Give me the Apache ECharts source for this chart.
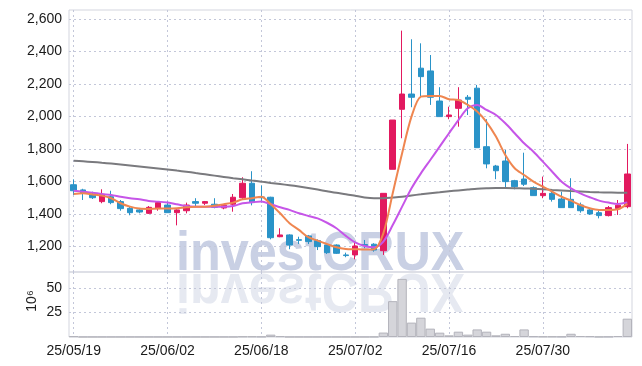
<!DOCTYPE html>
<html>
<head>
<meta charset="utf-8">
<script src="https://cdn.jsdelivr.net/npm/echarts@6/dist/echarts.min.js"></script>
<style>
html, body { margin: 0; padding: 0; background: #fff; }
#chart { width: 642px; height: 366px; }
</style>
</head>
<body>
<div id="chart"></div>
<script>
// trading days (KRX), yy/mm/dd
const dates = [
    '25/05/19', '25/05/20', '25/05/21', '25/05/22', '25/05/23', '25/05/26', '25/05/27', '25/05/28', '25/05/29', '25/05/30',
    '25/06/02', '25/06/04', '25/06/05', '25/06/09', '25/06/10', '25/06/11', '25/06/12', '25/06/13', '25/06/16', '25/06/17',
    '25/06/18', '25/06/19', '25/06/20', '25/06/23', '25/06/24', '25/06/25', '25/06/26', '25/06/27', '25/06/30', '25/07/01',
    '25/07/02', '25/07/03', '25/07/04', '25/07/07', '25/07/08', '25/07/09', '25/07/10', '25/07/11', '25/07/14', '25/07/15',
    '25/07/16', '25/07/17', '25/07/18', '25/07/21', '25/07/22', '25/07/23', '25/07/24', '25/07/25', '25/07/28', '25/07/29',
    '25/07/30', '25/07/31', '25/08/01', '25/08/04', '25/08/05', '25/08/06', '25/08/07', '25/08/08', '25/08/11', '25/08/12'
];

// [open, close, low, high]
const ohlc = [
    [1580, 1543, 1517, 1613], [1548, 1527, 1486, 1555], [1521, 1500, 1492, 1537], [1476, 1521, 1466, 1552], [1506, 1470, 1460, 1543],
    [1476, 1433, 1420, 1486], [1435, 1408, 1392, 1445], [1425, 1412, 1404, 1437], [1404, 1441, 1400, 1449], [1433, 1470, 1420, 1478],
    [1455, 1408, 1408, 1476], [1408, 1425, 1330, 1429], [1420, 1455, 1404, 1470], [1476, 1466, 1445, 1497], [1466, 1476, 1455, 1480],
    [1460, 1441, 1435, 1497], [1437, 1454, 1429, 1460], [1460, 1503, 1414, 1523], [1500, 1589, 1486, 1626], [1589, 1470, 1453, 1663],
    [1505, 1500, 1470, 1575], [1503, 1254, 1244, 1506], [1260, 1271, 1257, 1312], [1271, 1209, 1183, 1275], [1242, 1238, 1215, 1260],
    [1265, 1230, 1215, 1271], [1236, 1199, 1178, 1244], [1209, 1162, 1154, 1214], [1209, 1158, 1154, 1213], [1148, 1144, 1134, 1162],
    [1148, 1203, 1121, 1223], [1212, 1206, 1189, 1240], [1214, 1178, 1168, 1220], [1174, 1527, 1148, 1527], [1675, 1978, 1675, 1978],
    [2044, 2138, 1866, 2528], [2138, 2118, 2057, 2475], [2297, 2245, 2122, 2450], [2280, 2118, 2071, 2378], [2095, 1999, 1999, 2180],
    [1999, 2009, 1983, 2060], [2050, 2101, 1937, 2180], [2118, 2106, 2009, 2132], [2174, 1808, 1808, 2194], [1814, 1708, 1681, 1983],
    [1695, 1666, 1614, 1702], [1726, 1599, 1564, 1794], [1605, 1568, 1552, 1610], [1615, 1583, 1572, 1777], [1562, 1513, 1513, 1570],
    [1513, 1527, 1497, 1630], [1527, 1490, 1476, 1535], [1492, 1439, 1439, 1537], [1490, 1439, 1439, 1620], [1455, 1420, 1408, 1470],
    [1425, 1400, 1394, 1430], [1408, 1390, 1373, 1425], [1390, 1439, 1385, 1449], [1433, 1454, 1394, 1486], [1445, 1646, 1435, 1831]
];

const maShort = [
    1523, 1527, 1520, 1513, 1497, 1466, 1445, 1433, 1431, 1433,
    1433, 1435, 1441, 1445, 1445, 1451, 1460, 1470, 1490, 1497,
    1506, 1460, 1404, 1343, 1302, 1257, 1236, 1215, 1195, 1185,
    1183, 1181, 1183, 1281, 1527, 1774, 1999, 2122, 2126, 2126,
    2106, 2101, 2071, 2030, 1965, 1876, 1763, 1681, 1640, 1599,
    1568, 1537, 1506, 1482, 1455, 1435, 1425, 1425, 1429, 1462
];

const maMid = [
    1543, 1537, 1531, 1523, 1517, 1506, 1497, 1490, 1480, 1476,
    1470, 1460, 1449, 1445, 1445, 1445, 1445, 1449, 1466, 1472,
    1476, 1460, 1441, 1425, 1404, 1388, 1373, 1346, 1312, 1265,
    1225, 1203, 1195, 1230, 1332, 1445, 1558, 1650, 1732, 1814,
    1897, 1978, 2050, 2071, 2040, 2009, 1958, 1897, 1835, 1783,
    1722, 1660, 1599, 1558, 1527, 1503, 1482, 1470, 1462, 1470
];

const maLong = [
    1728, 1724, 1720, 1715, 1710, 1704, 1698, 1692, 1686, 1680,
    1674, 1667, 1660, 1652, 1644, 1636, 1628, 1620, 1613, 1606,
    1599, 1591, 1584, 1577, 1569, 1560, 1550, 1540, 1530, 1522,
    1512, 1502, 1497, 1497, 1501, 1506, 1514, 1521, 1528, 1534,
    1540, 1545, 1550, 1555, 1558, 1560, 1560, 1559, 1557, 1555,
    1552, 1548, 1545, 1541, 1538, 1535, 1533, 1532, 1531, 1531
];

// millions of shares
const volume = [
    0.8, 0.1, 0.1, 0.1, 0.1, 0.1, 0.1, 0.1, 0.1, 0.1,
    0.1, 0.1, 0.1, 0.1, 0.1, 0.1, 0.1, 0.1, 0.5, 0.5,
    0.3, 2.4, 0.8, 0.1, 0.1, 0.1, 0.1, 0.1, 0.1, 0.1,
    0.1, 0.1, 0.2, 4.5, 36.4, 59, 14.6, 19.6, 8.5, 4.4,
    1.7, 5.4, 2.4, 7.7, 5.4, 1.7, 3.3, 1.0, 7.7, 0.7,
    0.5, 0.5, 0.4, 3.3, 1.0, 0.8, 0.2, 0.3, 1.0, 18.6
];

const priceTicks = [1200, 1400, 1600, 1800, 2000, 2200, 2400, 2600];
const volumeTicks = [25, 50];

const upColor = '#e2195f';
const downColor = '#2a93c8';
const labelFont = "'Liberation Sans', sans-serif";
const dotted = { color: '#c3c7d9', type: [2, 3], width: 1 };
const markFont = "bold 56px 'Liberation Sans', sans-serif";

const chart = echarts.init(document.getElementById('chart'));

const xCommon = {
    type: 'category',
    data: dates,
    boundaryGap: true,
    axisLine: { show: false },
    axisTick: { show: false },
    splitLine: { show: true, interval: 9, alignWithLabel: true, lineStyle: dotted }
};

const option = {
    animation: false,
    backgroundColor: '#fff',
    grid: [
        { left: 69, right: 10, top: 10, height: 262, show: true, borderColor: '#d3d5de', borderWidth: 1 },
        { left: 69, right: 10, top: 272, height: 65, show: true, borderColor: '#d3d5de', borderWidth: 1 }
    ],
    graphic: [
        {
            type: 'text', x: 176, y: 272, scaleX: 0.9, z: 0, silent: true,
            style: { text: 'investCRUX', font: markFont, fill: '#c9d0e4', verticalAlign: 'bottom', y: 11 }
        },
        {
            type: 'text', x: 176, y: 272, scaleX: 0.9, scaleY: -1, z: 0, silent: true,
            style: { text: 'investCRUX', font: markFont, fill: '#e6e9f1', verticalAlign: 'bottom', y: 11 }
        },
        {
            type: 'text', x: 32, y: 301, rotation: Math.PI / 2, silent: true,
            style: { text: '10⁶', font: "14px " + labelFont, fill: '#222', align: 'center', verticalAlign: 'middle' }
        }
    ],
    xAxis: [
        Object.assign({ gridIndex: 0, axisLabel: { show: false } }, xCommon),
        Object.assign({
            gridIndex: 1,
            axisLabel: { interval: 9, margin: 7, color: '#1a1a1a', fontSize: 14, fontFamily: labelFont }
        }, xCommon)
    ],
    yAxis: [
        {
            type: 'value', gridIndex: 0, min: 1043, max: 2655, scale: true,
            axisLine: { show: false },
            axisTick: { show: false, customValues: priceTicks },
            axisLabel: {
                customValues: priceTicks, margin: 7, color: '#1a1a1a', fontSize: 14, fontFamily: labelFont,
                formatter: v => v.toLocaleString('en-US')
            },
            splitLine: { show: true, lineStyle: dotted }
        },
        {
            type: 'value', gridIndex: 1, min: 0, max: 66,
            axisLine: { show: false },
            axisTick: { show: false, customValues: volumeTicks },
            axisLabel: { customValues: volumeTicks, margin: 7, color: '#1a1a1a', fontSize: 14, fontFamily: labelFont },
            splitLine: { show: true, lineStyle: dotted }
        }
    ],
    series: [
        {
            type: 'candlestick', xAxisIndex: 0, yAxisIndex: 0, data: ohlc, barWidth: 6, z: 2,
            itemStyle: { color: upColor, color0: downColor, borderColor: upColor, borderColor0: downColor, borderWidth: 1 }
        },
        {
            type: 'line', xAxisIndex: 0, yAxisIndex: 0, data: maLong, symbol: 'none', smooth: 0.3, z: 3,
            lineStyle: { color: '#7a7a7e', width: 2 }
        },
        {
            type: 'line', xAxisIndex: 0, yAxisIndex: 0, data: maMid, symbol: 'none', smooth: 0.3, z: 4,
            lineStyle: { color: '#c655e8', width: 2 }
        },
        {
            type: 'line', xAxisIndex: 0, yAxisIndex: 0, data: maShort, symbol: 'none', smooth: 0.3, z: 5,
            lineStyle: { color: '#ef8650', width: 2 }
        },
        {
            type: 'bar', xAxisIndex: 1, yAxisIndex: 1, data: volume, barCategoryGap: '0%', z: 2,
            itemStyle: { color: '#d5d5da', borderColor: '#b3b3bb', borderWidth: 1 }
        }
    ]
};

chart.setOption(option);
</script>
</body>
</html>
